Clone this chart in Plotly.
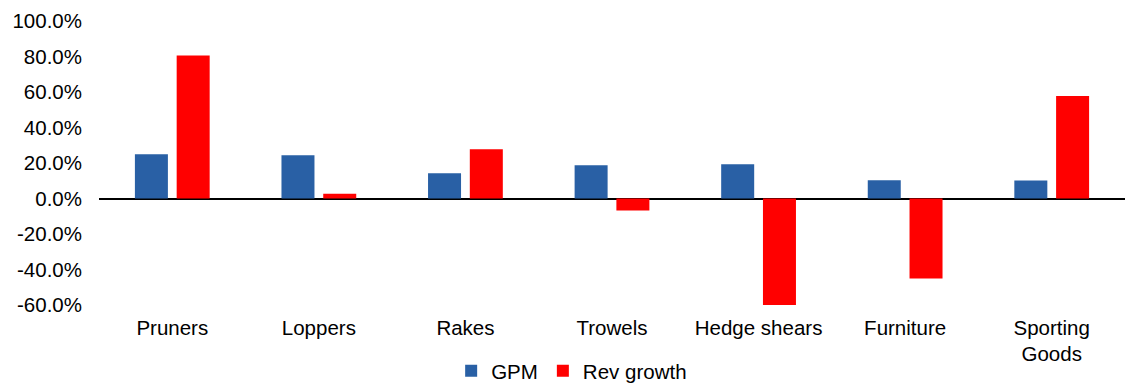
import plotly.graph_objects as go

categories = ["Pruners", "Loppers", "Rakes", "Trowels", "Hedge shears", "Furniture", "Sporting<br>Goods"]
gpm = [25.0, 24.3, 14.2, 18.7, 19.3, 10.3, 10.1]
rev_growth = [80.6, 2.7, 27.7, -6.7, -60.8, -45.1, 57.8]
y_ticks = [-60, -40, -20, 0, 20, 40, 60, 80, 100]

FONT = "Liberation Sans, Arial, sans-serif"

fig = go.Figure()
fig.add_trace(go.Bar(x=categories, y=gpm, name="GPM", marker=dict(color="#2960A5", line=dict(width=0))))
fig.add_trace(go.Bar(x=categories, y=rev_growth, name="Rev growth", marker=dict(color="#FF0000", line=dict(width=0))))

fig.update_layout(
    width=1132, height=383,
    margin=dict(l=99, r=7, t=20.5, b=78, pad=0, autoexpand=False),
    plot_bgcolor="white", paper_bgcolor="white",
    barmode="group", bargap=0.43, bargroupgap=0.21,
    font=dict(family=FONT, size=20.5, color="#000000"),
    showlegend=True,
    legend=dict(orientation="h", xref="container", yref="container",
                x=0.505, xanchor="center", y=12 / 383, yanchor="middle",
                font=dict(size=20.5), itemwidth=30, tracegroupgap=0, bgcolor="rgba(0,0,0,0)"),
)
fig.update_xaxes(showgrid=False, showline=False, ticks="", tickfont=dict(size=20.5),
                 ticklabelstandoff=8, automargin=False)
fig.update_yaxes(range=[-60, 100], tickvals=y_ticks, ticktext=[f"{v:.1f}%" for v in y_ticks],
                 showgrid=False, showline=False, zeroline=True, zerolinecolor="#000000",
                 zerolinewidth=1.5, ticks="", tickfont=dict(size=20.5), ticklabelstandoff=16,
                 automargin=False)

fig.write_html("out.html")
